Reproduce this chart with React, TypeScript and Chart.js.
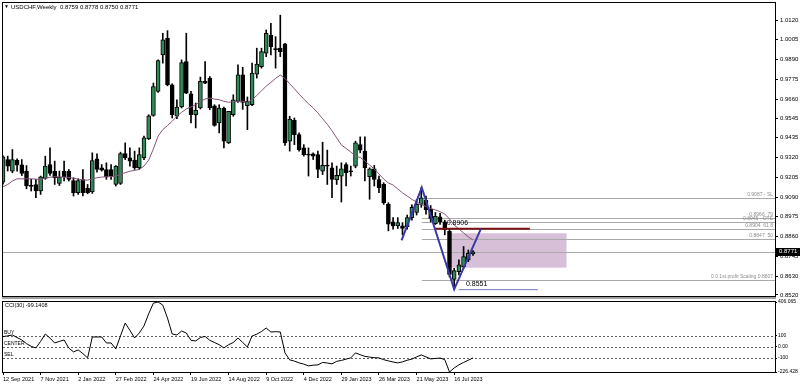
import React, { useEffect, useRef } from 'react';
import { Chart, registerables } from 'chart.js';

Chart.register(...registerables);

const FONT = "'Liberation Sans', 'DejaVu Sans', Arial, sans-serif";
Chart.defaults.font.family = FONT;

// ---------------- data (weekly USDCHF, index 0 = week of 12 Sep 2021) ----------------
const OPEN = [
  0.9177, 0.9308, 0.9241, 0.9304, 0.9277, 0.9240, 0.9158, 0.9163, 0.9125, 0.9198,
  0.9279, 0.9240, 0.9169, 0.9240, 0.9240, 0.9186, 0.9115, 0.9192, 0.9142, 0.9119,
  0.9312, 0.9260, 0.9250, 0.9250, 0.9163, 0.9169, 0.9343, 0.9318, 0.9305, 0.9260,
  0.9318, 0.9428, 0.9565, 0.9705, 0.9917, 1.0014, 0.9743, 0.9560, 0.9614, 0.9878,
  0.9691, 0.9569, 0.9608, 0.9763, 0.9782, 0.9621, 0.9521, 0.9608, 0.9405, 0.9569,
  0.9647, 0.9801, 0.9621, 0.9627, 0.9805, 0.9849, 0.9927, 1.0033, 0.9952, 0.9956,
  0.9981, 0.9415, 0.9536, 0.9453, 0.9376, 0.9337, 0.9341, 0.9337, 0.9241, 0.9276,
  0.9260, 0.9189, 0.9212, 0.9279, 0.9241, 0.9270, 0.9395, 0.9357, 0.9208, 0.9254,
  0.9192, 0.9164, 0.9047, 0.8945, 0.8922, 0.8922, 0.8918, 0.8970, 0.9000, 0.9047,
  0.9070, 0.9020, 0.8935, 0.8975, 0.8945, 0.8890, 0.8610, 0.8656, 0.8685, 0.8724,
  0.8759,
];
const HIGH = [
  0.9330, 0.9328, 0.9366, 0.9312, 0.9308, 0.9273, 0.9193, 0.9193, 0.9212, 0.9328,
  0.9376, 0.9299, 0.9241, 0.9299, 0.9250, 0.9202, 0.9196, 0.9250, 0.9163, 0.9347,
  0.9341, 0.9279, 0.9289, 0.9279, 0.9273, 0.9351, 0.9405, 0.9376, 0.9357, 0.9376,
  0.9444, 0.9569, 0.9753, 0.9888, 1.0043, 1.0058, 0.9749, 0.9656, 0.9888, 1.0043,
  0.9705, 0.9637, 0.9788, 0.9878, 0.9791, 0.9627, 0.9627, 0.9614, 0.9589, 0.9685,
  0.9859, 0.9845, 0.9672, 0.9869, 0.9956, 0.9956, 1.0062, 1.0100, 1.0023, 1.0148,
  0.9985, 0.9560, 0.9550, 0.9463, 0.9395, 0.9376, 0.9347, 0.9357, 0.9409, 0.9363,
  0.9289, 0.9270, 0.9289, 0.9289, 0.9270, 0.9415, 0.9440, 0.9440, 0.9260, 0.9274,
  0.9212, 0.9173, 0.9057, 0.8970, 0.8970, 0.8941, 0.8985, 0.9045, 0.9075, 0.9145,
  0.9095, 0.9040, 0.9000, 0.8995, 0.8955, 0.8905, 0.8675, 0.8724, 0.8802, 0.8782,
  0.8778,
];
const LOW = [
  0.9165, 0.9241, 0.9231, 0.9241, 0.9215, 0.9138, 0.9125, 0.9086, 0.9105, 0.9193,
  0.9215, 0.9163, 0.9157, 0.9183, 0.9183, 0.9096, 0.9105, 0.9096, 0.9109, 0.9111,
  0.9235, 0.9241, 0.9193, 0.9193, 0.9154, 0.9163, 0.9308, 0.9270, 0.9250, 0.9250,
  0.9308, 0.9424, 0.9560, 0.9699, 0.9869, 0.9737, 0.9550, 0.9546, 0.9608, 0.9691,
  0.9521, 0.9492, 0.9602, 0.9750, 0.9598, 0.9502, 0.9463, 0.9376, 0.9401, 0.9560,
  0.9641, 0.9600, 0.9482, 0.9621, 0.9782, 0.9840, 0.9907, 0.9917, 0.9840, 0.9907,
  0.9390, 0.9357, 0.9395, 0.9357, 0.9328, 0.9212, 0.9308, 0.9202, 0.9221, 0.9163,
  0.9086, 0.9163, 0.9061, 0.9154, 0.9212, 0.9260, 0.9347, 0.9183, 0.9077, 0.9154,
  0.9115, 0.9047, 0.8893, 0.8903, 0.8907, 0.8870, 0.8903, 0.8955, 0.8985, 0.9030,
  0.8990, 0.8945, 0.8930, 0.8930, 0.8870, 0.8625, 0.8553, 0.8637, 0.8675, 0.8714,
  0.8750,
];
const CLOSE = [
  0.9324, 0.9270, 0.9308, 0.9275, 0.9227, 0.9154, 0.9152, 0.9125, 0.9208, 0.9270,
  0.9227, 0.9202, 0.9206, 0.9208, 0.9192, 0.9115, 0.9186, 0.9115, 0.9115, 0.9302,
  0.9250, 0.9246, 0.9208, 0.9212, 0.9270, 0.9343, 0.9318, 0.9299, 0.9260, 0.9337,
  0.9434, 0.9563, 0.9733, 0.9884, 1.0004, 0.9743, 0.9569, 0.9614, 0.9873, 0.9695,
  0.9569, 0.9594, 0.9763, 0.9753, 0.9608, 0.9506, 0.9608, 0.9415, 0.9589, 0.9656,
  0.9801, 0.9640, 0.9647, 0.9811, 0.9863, 0.9936, 1.0043, 0.9965, 0.9948, 0.9936,
  0.9405, 0.9544, 0.9453, 0.9366, 0.9337, 0.9334, 0.9328, 0.9250, 0.9274, 0.9270,
  0.9192, 0.9216, 0.9254, 0.9231, 0.9237, 0.9405, 0.9363, 0.9260, 0.9254, 0.9192,
  0.9144, 0.9057, 0.8932, 0.8922, 0.8941, 0.8907, 0.8970, 0.9030, 0.9047, 0.9085,
  0.9015, 0.8965, 0.8978, 0.8945, 0.8900, 0.8640, 0.8662, 0.8695, 0.8744, 0.8763,
  0.8771,
];
const MA = [
  0.9150, 0.9163, 0.9183, 0.9196, 0.9196, 0.9196, 0.9196, 0.9194, 0.9192, 0.9200,
  0.9205, 0.9208, 0.9207, 0.9206, 0.9204, 0.9200, 0.9194, 0.9190, 0.9188, 0.9196,
  0.9202, 0.9206, 0.9208, 0.9208, 0.9212, 0.9222, 0.9232, 0.9240, 0.9245, 0.9250,
  0.9270, 0.9305, 0.9370, 0.9444, 0.9482, 0.9506, 0.9531, 0.9560, 0.9583, 0.9602,
  0.9614, 0.9627, 0.9647, 0.9660, 0.9666, 0.9660, 0.9656, 0.9647, 0.9641, 0.9645,
  0.9647, 0.9647, 0.9641, 0.9656, 0.9681, 0.9708, 0.9735, 0.9757, 0.9780, 0.9800,
  0.9780, 0.9749, 0.9720, 0.9689, 0.9660, 0.9633, 0.9608, 0.9579, 0.9546, 0.9513,
  0.9476, 0.9434, 0.9393, 0.9373, 0.9352, 0.9329, 0.9320, 0.9300, 0.9276, 0.9253,
  0.9224, 0.9195, 0.9172, 0.9160, 0.9137, 0.9114, 0.9096, 0.9076, 0.9061, 0.9047,
  0.9035, 0.9023, 0.9015, 0.9005, 0.8991, 0.8962, 0.8927, 0.8904, 0.8881, 0.8858,
  0.8840,
];
const CCI = [
  93, 100, 108, 85, 63, 30, 5, -9, 50, 117,
  80, 36, 50, 63, -10, -45, -27, -60, -99, 90,
  90, 90, 36, 36, -18, 100, 216, 150, 81, 126,
  190, 300, 396, 406.065, 378, 261, 117, 108, 144, 126,
  60, 54, 85, 95, 60, 40, 20, -9, 20, 40,
  81, 40, 0, 99, 115, 140, 171, 135, 138, 135,
  -54, -117, -128, -144, -155, -171, -165, -162, -140, -145,
  -153, -130, -122, -110, -99, -54, -70, -85, -92, -97,
  -99, -115, -126, -136, -144, -135, -120, -110, -90, -72,
  -90, -108, -104, -100, -115, -226.428, -190, -162, -140, -120,
  -99.1408,
];

const PRICE_TICKS = [1.012, 1.0005, 0.989, 0.9775, 0.966, 0.9545, 0.9435, 0.932, 0.9205, 0.909, 0.8975, 0.886, 0.8745, 0.863, 0.852];
const CCI_TICKS = [406.065, 100, 0, -100, -226.428];
const CCI_TICK_LABELS = ['406.065', '100', '0.00', '-100', '-226.428'];
const DATE_TICK_IDX = [0, 8, 16, 24, 32, 40, 48, 56, 64, 72, 80, 88, 96];
const DATE_LABELS = ['12 Sep 2021', '7 Nov 2021', '2 Jan 2022', '27 Feb 2022', '24 Apr 2022', '19 Jun 2022', '14 Aug 2022', '9 Oct 2022', '4 Dec 2022', '29 Jan 2023', '26 Mar 2023', '21 May 2023', '16 Jul 2023'];

const CCI_LEVELS = [100, 0, -100];
const CCI_LEVEL_LABELS = ['BUY', 'CENTER', 'SEL'];

const ZIGZAG_X = [84.8, 89.1, 96, 101.7];
const ZIGZAG_PRICE = [0.8838, 0.9145, 0.8553, 0.8906];

const FIB_START = 89.1;
const FIB_LEVELS = [0.9087, 0.8966, 0.8945, 0.8904, 0.8847, 0.8607];
const FIB_LABELS = ['0.9087 - SL', '0.8966  79', '0.8945 - OTE', '0.8904  61.8', '0.8847  50', '0.0 1st profit Scaling 0.8607'];

const BOX_X = [94.75, 119.9];
const BOX_PRICE = [0.8879, 0.8679];

const RESIST_PRICE = 0.8906;
const RESIST_X = [92, 112.1];
const RESIST_LABEL_X = 94.4;
const LOW_PRICE = 0.8551;
const LOW_X = [97, 113.8];
const LOW_LABEL_X = 98.5;

const LAST_PRICE = CLOSE[CLOSE.length - 1];

const X_MIN = 0;
const X_MAX = 164.26;
const PRICE_MIN = 0.8514;
const PRICE_MAX = 1.0219;
const CCI_MIN = -226.428;
const CCI_MAX = 406.065;

// ---------------- helpers ----------------
const GREEN = '#2e8b57';

function hline(ctx: CanvasRenderingContext2D, x0: number, x1: number, y: number) {
  ctx.beginPath();
  ctx.moveTo(x0, y);
  ctx.lineTo(x1, y);
  ctx.stroke();
}

const priceOverlay = {
  id: 'priceOverlay',
  beforeDatasetsDraw(chart: any) {
    const { ctx, chartArea: a, scales } = chart;
    const x = scales.x, y = scales.y;
    ctx.save();
    ctx.beginPath();
    ctx.rect(a.left, a.top, a.right - a.left, a.bottom - a.top);
    ctx.clip();
    const bx0 = x.getPixelForValue(BOX_X[0]);
    const bx1 = x.getPixelForValue(BOX_X[1]);
    const by0 = y.getPixelForValue(BOX_PRICE[0]);
    const by1 = y.getPixelForValue(BOX_PRICE[1]);
    ctx.fillStyle = '#d8bfd8';
    ctx.fillRect(bx0, by0, bx1 - bx0, by1 - by0);
    ctx.strokeStyle = '#a9a9a9';
    ctx.lineWidth = 1;
    hline(ctx, a.left, a.right, Math.round(y.getPixelForValue(LAST_PRICE)) + 0.5);
    const fx = x.getPixelForValue(FIB_START);
    FIB_LEVELS.forEach((lv) => {
      hline(ctx, fx, a.right, Math.round(y.getPixelForValue(lv)) + 0.5);
    });
    ctx.restore();
  },
  afterDatasetsDraw(chart: any) {
    const { ctx, chartArea: a, scales } = chart;
    const x = scales.x, y = scales.y;
    ctx.save();
    ctx.font = `5px ${FONT}`;
    ctx.fillStyle = '#8c8c8c';
    ctx.textAlign = 'right';
    ctx.textBaseline = 'bottom';
    FIB_LEVELS.forEach((lv, k) => {
      ctx.fillText(FIB_LABELS[k], a.right - 2, Math.round(y.getPixelForValue(lv)) - 0.5);
    });
    ctx.font = `7px ${FONT}`;
    ctx.fillStyle = '#000';
    ctx.textAlign = 'left';
    ctx.fillText(RESIST_PRICE.toFixed(4), x.getPixelForValue(RESIST_LABEL_X), y.getPixelForValue(RESIST_PRICE) - 2);
    ctx.fillText(LOW_PRICE.toFixed(4), x.getPixelForValue(LOW_LABEL_X), y.getPixelForValue(LOW_PRICE) - 2);
    ctx.restore();
  },
  afterDraw(chart: any) {
    const { ctx, chartArea: a, scales } = chart;
    const y = scales.y;
    const n = CLOSE.length - 1;
    ctx.save();
    ctx.strokeStyle = '#000';
    ctx.lineWidth = 1;
    ctx.strokeRect(a.left - 0.5, a.top - 0.5, a.right - a.left + 1, a.bottom - a.top + 1);
    ctx.fillStyle = '#a0a0a0';
    ctx.fillRect(a.left - 1, a.bottom + 1, a.right - a.left + 2, 1);
    ctx.fillStyle = '#000';
    ctx.textBaseline = 'middle';
    ctx.textAlign = 'left';
    ctx.font = `5px ${FONT}`;
    ctx.fillText('▼', 4, 7);
    ctx.font = `6px ${FONT}`;
    ctx.fillText(
      `USDCHF,Weekly  ${OPEN[n].toFixed(4)} ${HIGH[n].toFixed(4)} ${LOW[n].toFixed(4)} ${CLOSE[n].toFixed(4)}`,
      11,
      7
    );
    const py = y.getPixelForValue(LAST_PRICE);
    ctx.fillStyle = '#000';
    ctx.fillRect(a.right + 1, Math.round(py) - 4, 25, 8);
    ctx.fillStyle = '#fff';
    ctx.font = `6px ${FONT}`;
    ctx.fillText(LAST_PRICE.toFixed(4), a.right + 4, py);
    ctx.restore();
  },
};

const cciOverlay = {
  id: 'cciOverlay',
  beforeDatasetsDraw(chart: any) {
    const { ctx, chartArea: a, scales } = chart;
    const y = scales.y;
    ctx.save();
    ctx.strokeStyle = '#606060';
    ctx.lineWidth = 1;
    ctx.setLineDash([2, 2]);
    CCI_LEVELS.forEach((lv) => hline(ctx, a.left, a.right, Math.round(y.getPixelForValue(lv)) + 0.5));
    ctx.restore();
  },
  afterDraw(chart: any) {
    const { ctx, chartArea: a, scales } = chart;
    const y = scales.y;
    ctx.save();
    ctx.fillStyle = '#a0a0a0';
    ctx.fillRect(a.left - 1, 0, a.right - a.left + 2, 1);
    ctx.strokeStyle = '#000';
    ctx.lineWidth = 1;
    ctx.strokeRect(a.left - 0.5, a.top - 0.5, a.right - a.left + 1, a.bottom - a.top + 1);
    ctx.fillStyle = '#000';
    ctx.textAlign = 'left';
    ctx.textBaseline = 'middle';
    ctx.font = `5.5px ${FONT}`;
    ctx.fillText(`CCI(30) ${CCI[CCI.length - 1].toFixed(4)}`, 5, a.top + 3.5);
    ctx.font = `5px ${FONT}`;
    ctx.textBaseline = 'bottom';
    CCI_LEVELS.forEach((lv, k) => {
      ctx.fillText(CCI_LEVEL_LABELS[k], 4, Math.round(y.getPixelForValue(lv)) - 0.5);
    });
    ctx.restore();
  },
};

function noPadFitY(s: any) {
  s.width = 25;
  s.paddingTop = 0;
  s.paddingBottom = 0;
}

function priceConfig(): any {
  const bodies = OPEN.map((o, i) => ({ x: i, y: [o, CLOSE[i]] }));
  const wicks = OPEN.map((_, i) => ({ x: i, y: [LOW[i], HIGH[i]] }));
  return {
    type: 'bar',
    data: {
      datasets: [
        {
          type: 'line',
          label: 'ZigZag',
          data: ZIGZAG_X.map((xv, k) => ({ x: xv, y: ZIGZAG_PRICE[k] })),
          borderColor: '#3838a8',
          borderWidth: 2,
          pointRadius: 0,
          order: 0,
        },
        {
          type: 'line',
          label: 'Resistance',
          data: RESIST_X.map((xv) => ({ x: xv, y: RESIST_PRICE })),
          borderColor: '#7a1010',
          borderWidth: 2,
          pointRadius: 0,
          order: 0,
        },
        {
          type: 'line',
          label: 'Low',
          data: LOW_X.map((xv) => ({ x: xv, y: LOW_PRICE })),
          borderColor: '#6f78c0',
          borderWidth: 1,
          pointRadius: 0,
          order: 0,
        },
        {
          type: 'line',
          label: 'MA',
          data: MA.map((v, i) => ({ x: i, y: v })),
          borderColor: '#86557a',
          borderWidth: 1,
          pointRadius: 0,
          order: 1,
        },
        {
          type: 'bar',
          label: 'Body',
          data: bodies,
          backgroundColor: (c: any) => (CLOSE[c.dataIndex] >= OPEN[c.dataIndex] ? GREEN : '#000'),
          borderColor: '#000',
          borderWidth: 1,
          borderSkipped: false,
          barThickness: 4,
          minBarLength: 1,
          grouped: false,
          order: 2,
        },
        {
          type: 'bar',
          label: 'Wick',
          data: wicks,
          backgroundColor: '#000',
          borderWidth: 0,
          barThickness: 1,
          grouped: false,
          order: 3,
        },
      ],
    },
    options: {
      animation: false,
      responsive: false,
      events: [],
      layout: { padding: { left: 3, top: 3, right: 0, bottom: 2 } },
      plugins: { legend: { display: false }, tooltip: { enabled: false }, title: { display: false } },
      scales: {
        x: { type: 'linear', min: X_MIN, max: X_MAX, display: false, offset: false, grid: { offset: false } },
        y: {
          type: 'linear',
          position: 'right',
          min: PRICE_MIN,
          max: PRICE_MAX,
          beginAtZero: false,
          afterBuildTicks: (s: any) => {
            s.ticks = PRICE_TICKS.map((v) => ({ value: v }));
          },
          afterFit: noPadFitY,
          ticks: {
            autoSkip: false,
            padding: 2,
            color: '#000',
            font: { family: FONT, size: 6 },
            callback: (v: any) => Number(v).toFixed(4),
          },
          grid: { drawOnChartArea: false, drawTicks: true, tickLength: 3, color: '#000' },
          border: { display: true, color: '#000' },
        },
      },
    },
    plugins: [priceOverlay],
  };
}

function cciConfig(): any {
  return {
    type: 'line',
    data: {
      datasets: [
        {
          label: 'CCI(30)',
          data: CCI.map((v, i) => ({ x: i, y: v })),
          borderColor: '#000',
          borderWidth: 1,
          pointRadius: 0,
        },
      ],
    },
    options: {
      animation: false,
      responsive: false,
      events: [],
      layout: { padding: { left: 3, top: 4, right: 0, bottom: 0 } },
      plugins: { legend: { display: false }, tooltip: { enabled: false } },
      scales: {
        x: {
          type: 'linear',
          position: 'bottom',
          min: X_MIN,
          max: X_MAX,
          offset: false,
          afterBuildTicks: (s: any) => {
            s.ticks = DATE_TICK_IDX.map((v) => ({ value: v }));
          },
          afterFit: (s: any) => {
            s.height = 15;
            s.paddingLeft = 0;
            s.paddingRight = 0;
          },
          ticks: {
            autoSkip: false,
            maxRotation: 0,
            minRotation: 0,
            align: 'start',
            padding: 1,
            color: '#000',
            font: { family: FONT, size: 5.5 },
            callback: (_v: any, idx: number) => DATE_LABELS[idx],
          },
          grid: { drawOnChartArea: false, drawTicks: true, tickLength: 3, color: '#000', offset: false },
          border: { display: true, color: '#000' },
        },
        y: {
          type: 'linear',
          position: 'right',
          min: CCI_MIN,
          max: CCI_MAX,
          afterBuildTicks: (s: any) => {
            s.ticks = CCI_TICKS.map((v) => ({ value: v }));
          },
          afterFit: noPadFitY,
          ticks: {
            autoSkip: false,
            padding: 1,
            color: '#000',
            font: { family: FONT, size: 5 },
            callback: (_v: any, idx: number) => CCI_TICK_LABELS[idx],
          },
          grid: { drawOnChartArea: false, drawTicks: true, tickLength: 2, color: '#000' },
          border: { display: true, color: '#000' },
        },
      },
    },
    plugins: [cciOverlay],
  };
}

export default function App() {
  const priceRef = useRef<HTMLCanvasElement>(null);
  const cciRef = useRef<HTMLCanvasElement>(null);

  useEffect(() => {
    const c1 = new Chart(priceRef.current as HTMLCanvasElement, priceConfig());
    const c2 = new Chart(cciRef.current as HTMLCanvasElement, cciConfig());
    return () => {
      c1.destroy();
      c2.destroy();
    };
  }, []);

  return (
    <div style={{ position: 'absolute', left: 0, top: 0, width: 800, height: 387, background: '#fff', overflow: 'hidden' }}>
      <canvas ref={priceRef} width={800} height={298} style={{ display: 'block', width: 800, height: 298 }} />
      <canvas ref={cciRef} width={800} height={89} style={{ display: 'block', width: 800, height: 89 }} />
    </div>
  );
}
